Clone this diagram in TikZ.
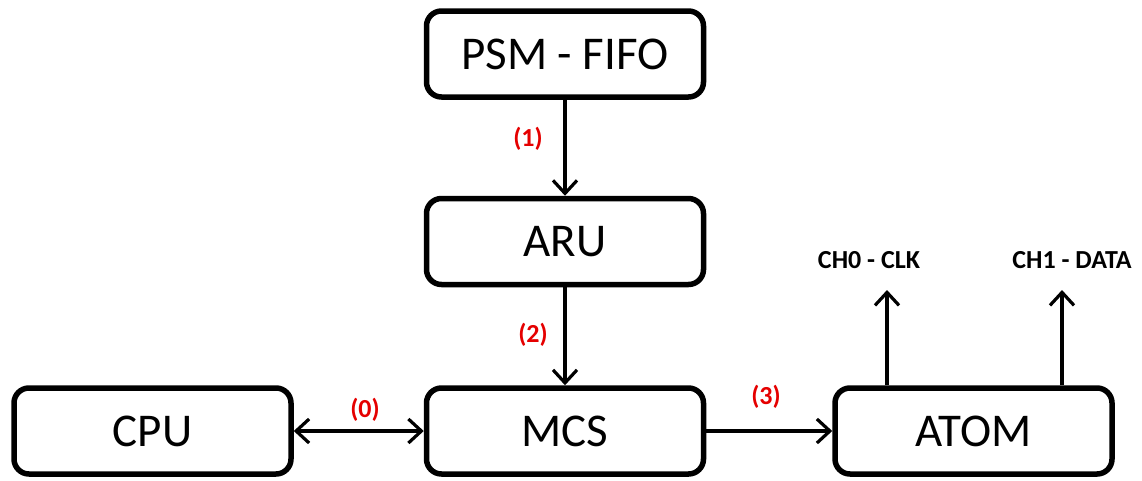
\documentclass[tikz,border=0pt]{standalone}
\usepackage{fontspec}
\setmainfont{Carlito}
\usetikzlibrary{arrows.meta}
\begin{document}
\begin{tikzpicture}[x=1pt,y=-1pt,
  block/.style={draw, line width=5.5pt, rounded corners=15pt,
    minimum width=277pt, minimum height=86pt, inner sep=0pt,
    font=\fontsize{47}{50}\selectfont},
  barb/.tip={Straight Barb[length=13pt,width=24pt,line width=3.2pt]},
  link/.style={line width=3.2pt, -barb},
  tag/.style={text=red!90!black, font=\bfseries\fontsize{26}{30}\selectfont, inner sep=0pt},
  chan/.style={font=\bfseries\fontsize{26}{30}\selectfont, inner sep=0pt}]
  \useasboundingbox (0,0) rectangle (1142,480);

  \node[block] (psm)  at (565,54)    {PSM - FIFO};
  \node[block] (aru)  at (565,241.5) {ARU};
  \node[block] (mcs)  at (565,431)   {MCS};
  \node[block] (cpu)  at (152.5,431) {CPU};
  \node[block] (atom) at (973.5,431) {ATOM};

  \coordinate (ch0) at (887,290);
  \coordinate (ch1) at (1062,290);

  \draw[link] (psm) -- (aru);
  \draw[link] (aru) -- (mcs);
  \draw[link, barb-barb] (cpu) -- (mcs);
  \draw[link] (mcs) -- (atom);
  \draw[link] (ch0 |- atom.north) -- (ch0);
  \draw[link] (ch1 |- atom.north) -- (ch1);

  \node[tag] (l1) at (528,138.5) {(1)};
  \node[tag] (l2) at (533,335) {(2)};
  \node[tag] (l0) at (365,410) {(0)};
  \node[tag] (l3) at (766,397) {(3)};

  \node[chan] (c0) at (869,260) {CH0 - CLK};
  \node[chan] (c1) at (1072,260) {CH1 - DATA};
\end{tikzpicture}
\end{document}
